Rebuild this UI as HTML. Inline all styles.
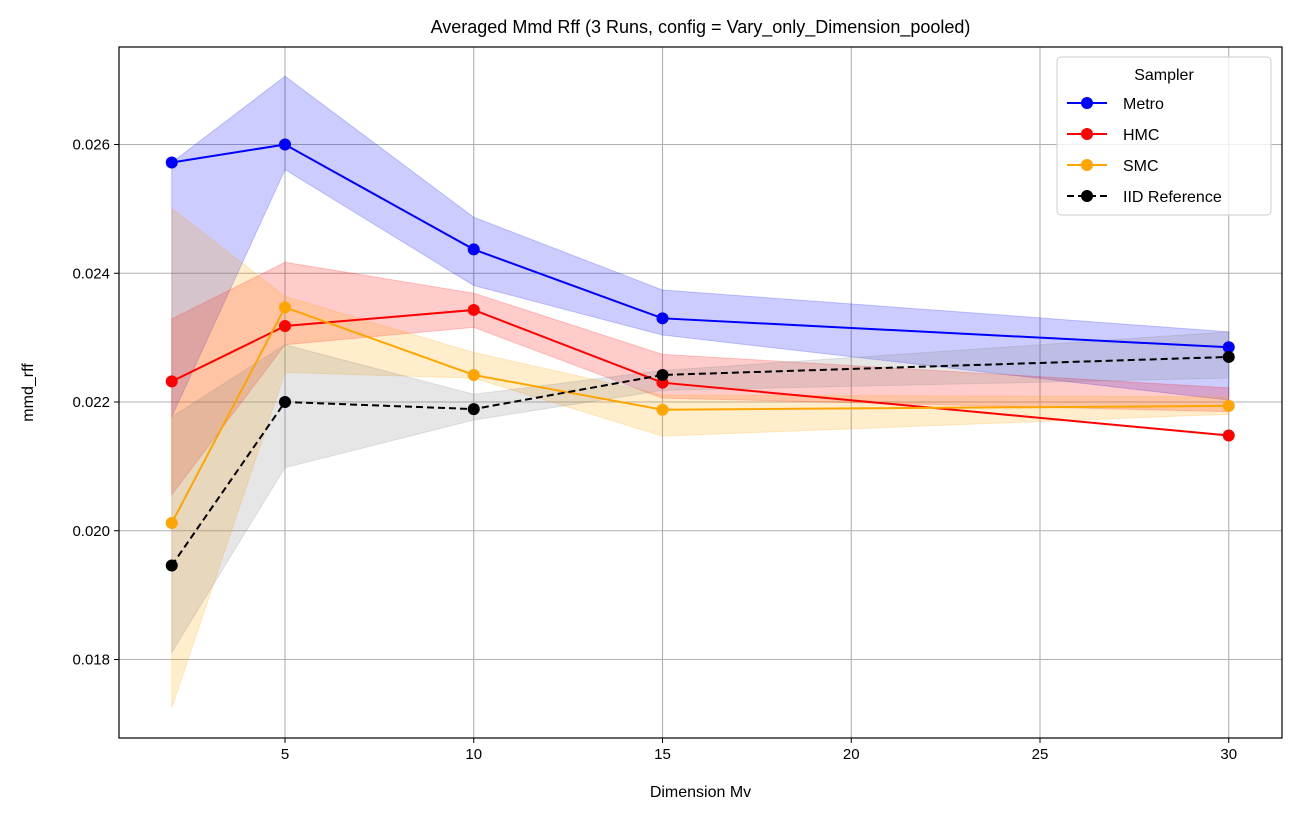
<!DOCTYPE html>
<html><head><meta charset="utf-8"><style>
body{margin:0;background:#fff;width:1296px;height:817px;overflow:hidden}
svg{font-family:"Liberation Sans","DejaVu Sans",sans-serif}
</style></head><body>
<svg id="chart" width="1296" height="817" xmlns="http://www.w3.org/2000/svg"></svg>
<script>
const dims = [2, 5, 10, 15, 30];
const metroMean = [0.02572, 0.02600, 0.02437, 0.02330, 0.02285];
const metroHi = [0.02572, 0.02706, 0.02487, 0.02374, 0.02309];
const metroLo = [0.02177, 0.02561, 0.02381, 0.02304, 0.02203];
const hmcMean = [0.02232, 0.02318, 0.02343, 0.02230, 0.02148];
const hmcHi = [0.02329, 0.02417, 0.02369, 0.02274, 0.02222];
const hmcLo = [0.02056, 0.02289, 0.02316, 0.02206, 0.02185];
const smcMean = [0.02012, 0.02347, 0.02242, 0.02188, 0.02194];
const smcHi = [0.02501, 0.02364, 0.02277, 0.02211, 0.02208];
const smcLo = [0.01725, 0.02246, 0.02237, 0.02147, 0.02181];
const iidMean = [0.01946, 0.02200, 0.02189, 0.02242, 0.02270];
const iidHi = [0.02177, 0.02289, 0.02212, 0.02249, 0.02309];
const iidLo = [0.01811, 0.02098, 0.02172, 0.02218, 0.02237];
const xTicks = [5, 10, 15, 20, 25, 30];
const yTicks = [0.018, 0.020, 0.022, 0.024, 0.026];

const L=119,R=1282,T=47,B=738;
const X=v=>285+(v-5)*37.75;
const Y=v=>402-(v-0.022)*64375;
const svg=document.getElementById('chart');
const NS='http://www.w3.org/2000/svg';
function mk(tag,attrs,parent){const e=document.createElementNS(NS,tag);for(const k in attrs)e.setAttribute(k,attrs[k]);(parent||svg).appendChild(e);return e;}

// grid
xTicks.forEach(t=>{
  const g=mk('line',{x1:X(t),x2:X(t),y1:T,y2:B,stroke:'#b0b0b0','stroke-width':1.1});
  
  
  const tk=mk('line',{x1:X(t),x2:X(t),y1:B,y2:B+5,stroke:'#000'});
  
  
  const tx=mk('text',{x:X(t),y:B+21,'text-anchor':'middle','font-size':15});
  tx.textContent=t;
  
  
});
yTicks.forEach(t=>{
  const g=mk('line',{x1:L,x2:R,y1:Y(t),y2:Y(t),stroke:'#b0b0b0','stroke-width':1.1});
  
  
  const tk=mk('line',{x1:L-5,x2:L,y1:Y(t),y2:Y(t),stroke:'#000'});
  
  
  const tx=mk('text',{x:L-9,y:Y(t)+5,'text-anchor':'end','font-size':15});
  tx.textContent=t.toFixed(3);
  
  
});

const series=[
 {name:'metro',color:'blue',fill:'rgba(0,0,255,0.2)',m:metroMean,hi:metroHi,lo:metroLo,dash:null},
 {name:'hmc',color:'red',fill:'rgba(255,0,0,0.2)',m:hmcMean,hi:hmcHi,lo:hmcLo,dash:null},
 {name:'smc',color:'orange',fill:'rgba(255,165,0,0.2)',m:smcMean,hi:smcHi,lo:smcLo,dash:null},
 {name:'iid',color:'black',fill:'rgba(128,128,128,0.2)',m:iidMean,hi:iidHi,lo:iidLo,dash:'7,4'}
];
series.forEach(s=>{
  let d='M'+dims.map((x,i)=>X(x)+','+Y(s.hi[i])).join('L');
  d+='L'+dims.slice().reverse().map((x,j)=>{const i=dims.length-1-j;return X(x)+','+Y(s.lo[i]);}).join('L')+'Z';
  const b=mk('path',{d:d,fill:s.fill,stroke:s.fill,'stroke-width':1});
  
  
});
series.forEach(s=>{
  const a={points:dims.map((x,i)=>X(x)+','+Y(s.m[i])).join(' '),fill:'none',stroke:s.color,'stroke-width':2};
  if(s.dash)a['stroke-dasharray']=s.dash;
  const l=mk('polyline',a);
  
  
  dims.forEach((x,i)=>{
    const c=mk('circle',{cx:X(x),cy:Y(s.m[i]),r:6,fill:s.color});
    
    
  });
});

const fr=mk('rect',{x:L,y:T,width:R-L,height:B-T,fill:'none',stroke:'#000','stroke-width':1.2});



const ti=mk('text',{x:(L+R)/2,y:33,'text-anchor':'middle','font-size':18});
ti.textContent='Averaged Mmd Rff (3 Runs, config = Vary_only_Dimension_pooled)';


const xl=mk('text',{x:(L+R)/2,y:797,'text-anchor':'middle','font-size':16});
xl.textContent='Dimension Mv';


const yl=mk('text',{x:33,y:(T+B)/2,'text-anchor':'middle','font-size':16,transform:'rotate(-90 33 '+(T+B)/2+')'});
yl.textContent='mmd_rff';



// legend
const lg=mk('g',{});


mk('rect',{x:1057,y:57,width:214,height:158,rx:4,fill:'rgba(255,255,255,0.8)',stroke:'#ccc'},lg);
const lt=mk('text',{x:1164,y:80,'text-anchor':'middle','font-size':16},lg);
lt.textContent='Sampler';
const labels=['Metro','HMC','SMC','IID Reference'];
series.forEach((s,i)=>{
  const y=103+i*31;
  const e=mk('g',{},lg);
  
  
  const a={x1:1067,x2:1107,y1:y,y2:y,stroke:s.color,'stroke-width':2};
  if(s.dash)a['stroke-dasharray']=s.dash;
  mk('line',a,e);
  mk('circle',{cx:1087,cy:y,r:6,fill:s.color},e);
  const t=mk('text',{x:1123,y:y+6,'font-size':16},e);
  t.textContent=labels[i];
});
</script>
</body></html>
